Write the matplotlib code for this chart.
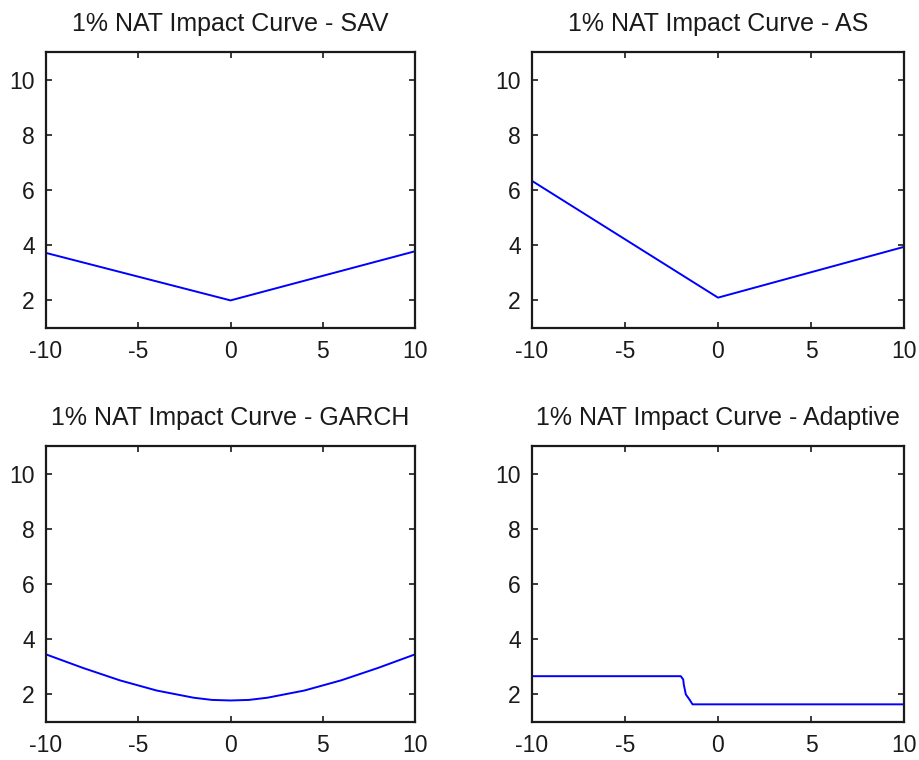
import matplotlib
matplotlib.use("Agg")
import matplotlib.pyplot as plt

plt.rcParams['font.family'] = ['Liberation Sans', 'DejaVu Sans']
plt.rcParams['axes.unicode_minus'] = False

# News impact curves of the 1% VaR for four CAViaR-type specifications
sav_x = [-10, 0, 10]
sav_y = [3.72, 2.00, 3.78]

as_x = [-10, 0, 10]
as_y = [6.33, 2.10, 3.94]

garch_x = [-10, -8, -6, -4, -2, -1, 0, 1, 2, 4, 6, 8, 10]
garch_y = [3.45, 2.96, 2.51, 2.14, 1.88, 1.80, 1.78, 1.80, 1.88, 2.14, 2.51, 2.96, 3.45]

adaptive_x = [-10, -2.0, -1.87, -1.84, -1.73, -1.51, -1.37, 10]
adaptive_y = [2.66, 2.66, 2.54, 2.36, 2.00, 1.79, 1.64, 1.64]

titles = ["1% NAT Impact Curve - SAV", "1% NAT Impact Curve - AS",
          "1% NAT Impact Curve - GARCH", "1% NAT Impact Curve - Adaptive"]
x_ticks = [-10, -5, 0, 5, 10]
y_ticks = [2, 4, 6, 8, 10]

W, H = 919, 760
fig = plt.figure(figsize=(W / 100, H / 100), dpi=100)

# axes boxes in pixels: left, top, right, bottom
boxes = [(46, 52, 415, 328), (532, 52, 904, 328),
         (46, 446, 415, 722), (532, 446, 904, 722)]
series = [(sav_x, sav_y), (as_x, as_y), (garch_x, garch_y), (adaptive_x, adaptive_y)]

for (l, t, r, b), (xs, ys), title in zip(boxes, series, titles):
    ax = fig.add_axes([l / W, 1 - b / H, (r - l) / W, (b - t) / H])
    ax.plot(xs, ys, color='#0000ff', lw=1.4)
    ax.set_xlim(-10, 10)
    ax.set_ylim(1, 11)
    ax.set_xticks(x_ticks)
    ax.set_yticks(y_ticks)
    ax.tick_params(direction='in', length=4, width=1.2, top=True, right=True,
                   labelsize=16.5, colors='#1a1a1a')
    ax.tick_params(axis='x', pad=9)
    ax.tick_params(axis='y', pad=8)
    for s in ax.spines.values():
        s.set_linewidth(1.6)
        s.set_color('#1a1a1a')
    ax.set_title(title, fontsize=18, color='#1a1a1a', pad=15)

fig.savefig("out.png", dpi=100, facecolor='white')
